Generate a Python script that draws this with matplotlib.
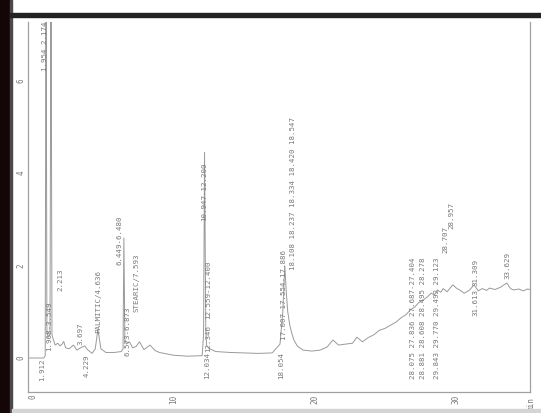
import matplotlib
matplotlib.use("Agg")
import matplotlib.pyplot as plt
from matplotlib.patches import Rectangle

# Detector trace: retention time (min) and signal
trace_time = [
    -0.32, 0.80, 0.90, 0.96, 1.02, 1.10, 1.24, 1.31, 1.38, 1.48, 1.60, 1.80, 1.95, 2.10, 2.21, 2.35,
    2.60, 2.90, 3.15, 3.40, 3.70, 3.90, 4.23, 4.45, 4.64, 4.85, 5.20, 5.80, 6.30, 6.42,
    6.48, 6.55, 6.65, 6.87, 7.10, 7.35, 7.59, 7.90, 8.33, 8.70, 9.00, 10.0, 11.0, 12.03,
    12.13, 12.20, 12.29, 12.35, 12.55, 13.0, 14.0, 15.0, 16.0, 17.0, 17.55, 17.75,
    17.89, 18.00, 18.10, 18.25, 18.42, 18.55, 18.80, 19.20, 19.80, 20.40, 20.90, 21.30,
    21.70, 22.20, 22.70, 23.00, 23.40, 23.80, 24.20, 24.60, 25.00, 25.40, 25.80, 26.10,
    26.50, 26.80, 27.10, 27.40, 27.70, 28.00, 28.28, 28.50, 28.71, 28.96, 29.12, 29.40,
    29.80, 30.10, 30.30, 30.60, 30.80, 31.00, 31.31, 31.61, 31.90, 32.20, 32.40, 32.80,
    33.20, 33.63, 33.90, 34.10, 34.50, 34.80, 35.10, 35.28,
]
trace_signal = [
    0.00, 0.00, 0.05, 9.00, 0.60, 0.45, 0.50, 9.00, 0.50, 0.40, 0.28, 0.32, 0.26, 0.30, 0.36, 0.22,
    0.20, 0.28, 0.17, 0.22, 0.26, 0.18, 0.10, 0.20, 0.62, 0.20, 0.12, 0.12, 0.14, 0.20,
    2.60, 0.40, 0.30, 0.35, 0.22, 0.25, 0.35, 0.18, 0.28, 0.16, 0.12, 0.06, 0.04, 0.05,
    0.50, 4.45, 0.60, 0.26, 0.20, 0.14, 0.12, 0.11, 0.10, 0.11, 0.30, 1.00,
    2.00, 1.40, 1.00, 0.70, 0.50, 0.38, 0.25, 0.17, 0.15, 0.17, 0.24, 0.39,
    0.28, 0.30, 0.32, 0.45, 0.35, 0.44, 0.50, 0.60, 0.64, 0.71, 0.78, 0.86,
    0.94, 1.04, 1.10, 1.20, 1.25, 1.32, 1.40, 1.36, 1.47, 1.42, 1.50, 1.43,
    1.58, 1.50, 1.47, 1.40, 1.43, 1.47, 1.58, 1.45, 1.50, 1.46, 1.51, 1.48,
    1.53, 1.62, 1.50, 1.47, 1.49, 1.45, 1.49, 1.48,
]

# Retention-time annotations: text, time position, signal position of the text base
label_text = [
    "1.912", "1.954 2.174", "1.968-3.549", "2.213", "3.697", "4.229", "PALMITIC/4.636",
    "6.449-6.480", "6.573-6.873", "STEARIC/7.593", "10.947-12.200", "12.559-12.400",
    "12.346", "12.034", "18.054", "17.007 17.554-17.886",
    "18.108 18.237 18.334 18.420 18.547",
    "28.075 27.836 27.687-27.404", "28.881 28.608 28.495 28.278",
    "29.843 29.770 29.492 29.123", "28.707", "28.957", "31.613", "31.309", "33.629",
]
label_time = [
    0.68, 0.92, 1.20, 1.95, 3.37, 3.86, 4.65,
    6.20, 6.77, 7.40, 12.20, 12.45,
    12.45, 12.40, 17.60, 17.82,
    18.45,
    27.00, 27.70,
    28.70, 29.26, 29.70, 31.40, 31.40, 33.70,
]
label_base = [
    -0.50, 6.20, 0.15, 1.45, 0.28, -0.40, 0.55,
    2.00, 0.05, 1.00, 2.95, 0.85,
    0.12, -0.45, -0.45, 0.38,
    1.90,
    -0.45, -0.45,
    -0.45, 2.27, 2.78, 0.90, 1.55, 1.70,
]

y_ticks = [0, 2, 4, 6]
x_ticks = [0, 10, 20, 30]
x_unit = "min"

ink = "#9a9a9a"
text_ink = "#7a7a7a"
mono = "DejaVu Sans Mono"

fig = plt.figure(figsize=(5.41, 4.13), dpi=100)
W, H = 541, 413
ax = fig.add_axes([28 / W, (H - 392) / H, (530 - 28) / W, (392 - 22) / H])

ax.plot(trace_time, trace_signal, color=ink, lw=0.7, solid_joinstyle="miter")
ax.set_xlim(-0.32, 35.28)
ax.set_ylim(-0.734, 7.257)

for side in ("left", "right", "bottom"):
    ax.spines[side].set_color("#a0a0a0")
    ax.spines[side].set_linewidth(0.9)
ax.spines["top"].set_visible(False)

ax.set_yticks(y_ticks)
ax.set_yticklabels([str(v) for v in y_ticks], rotation=90, va="center",
                   fontsize=5.5, color=text_ink, family=mono)
ax.set_xticks(x_ticks)
ax.set_xticklabels([str(v) for v in x_ticks], rotation=90, ha="center",
                   fontsize=5.5, color=text_ink, family=mono)
ax.tick_params(axis="y", length=0, pad=2)
ax.tick_params(axis="x", length=0, pad=2)
ax.text(35.35, -0.85, x_unit, rotation=90, ha="center", va="top",
        fontsize=5.5, color=text_ink, family=mono)

for txt, t, s in zip(label_text, label_time, label_base):
    ax.text(t, s, txt, rotation=90, ha="center", va="bottom", fontsize=5.4,
            color=text_ink, family=mono, clip_on=False)

# Scan border: dark band on the left, dark rule across the top, faint rule at the bottom
fig.patches.append(Rectangle((0, 0), 10 / W, 1, transform=fig.transFigure,
                             color="#140606", zorder=5))
fig.patches.append(Rectangle((10 / W, 0), 2 / W, 1, transform=fig.transFigure,
                             color="#4a4a4a", zorder=5))
fig.patches.append(Rectangle((10 / W, (H - 17) / H), 1, 4 / H, transform=fig.transFigure,
                             color="#222222", zorder=5))
fig.patches.append(Rectangle((12 / W, 1 / H), 1, 3 / H, transform=fig.transFigure,
                             color="#d4d4d4", zorder=5))

fig.savefig("out.png", dpi=100, facecolor="white")
